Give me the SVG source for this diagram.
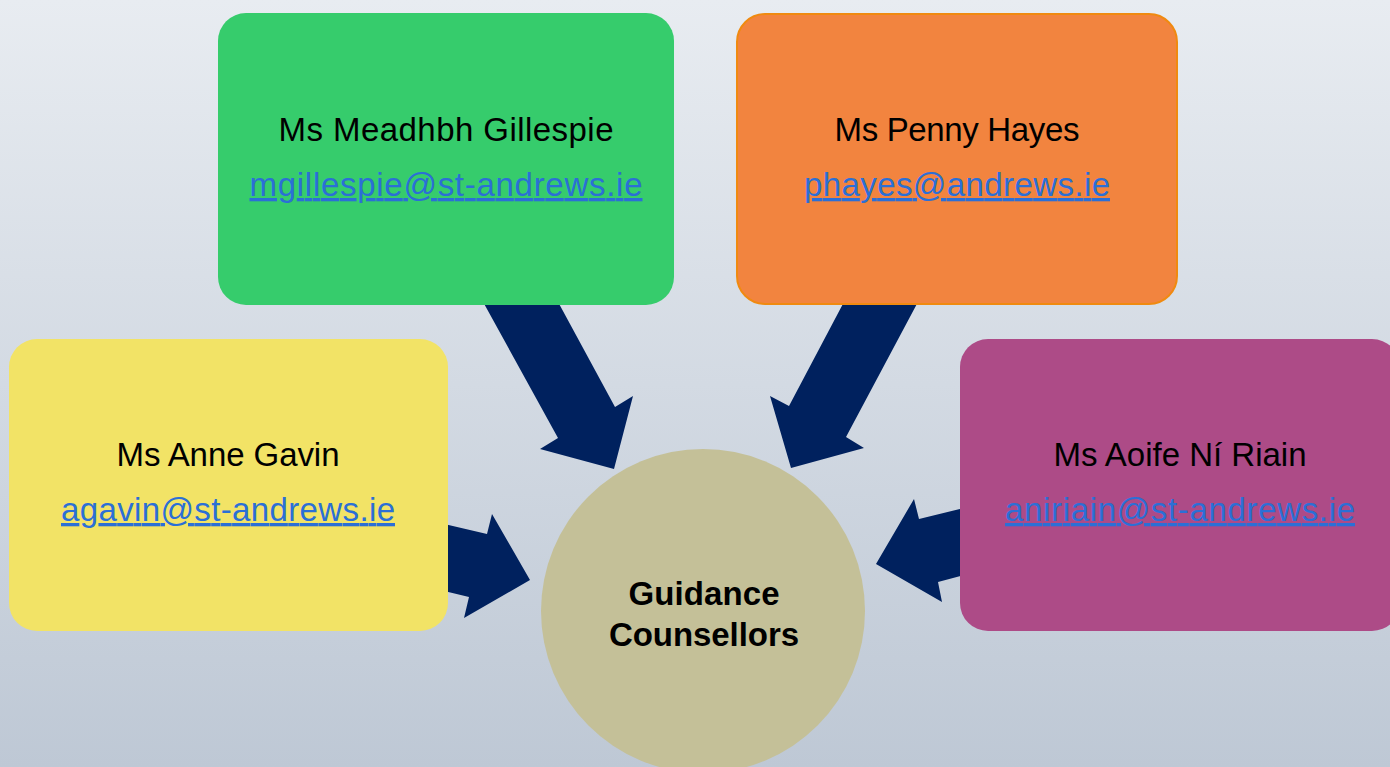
<svg xmlns="http://www.w3.org/2000/svg" width="1390" height="767" viewBox="0 0 1390 767">
<defs>
<linearGradient id="bg" x1="0" y1="0" x2="0" y2="1">
<stop offset="0" stop-color="#E8ECF1"/>
<stop offset="1" stop-color="#BEC8D5"/>
</linearGradient>
<style>
.name{font-family:"Liberation Sans",Arial,sans-serif;font-size:33px;fill:#000;text-anchor:middle}
.mail{font-family:"Liberation Sans",Arial,sans-serif;font-size:33px;fill:#2B6FD6;text-anchor:middle;text-decoration:underline}
.center{font-family:"Liberation Sans",Arial,sans-serif;font-size:33px;font-weight:bold;fill:#000;text-anchor:middle}
.arrow{fill:#00215E}
</style>
</defs>
<rect width="1390" height="767" fill="url(#bg)"/>
<g id="connectors">
<polygon class="arrow" points="482,300 557,300 615,407 633,396 614,469 540,449 558,438"/>
<polygon class="arrow" points="845,300 919,300 846,437 864,448 791,468 770,396 789,406"/>
<polygon class="arrow" points="440,523 487,534 492,514 530,580 464,618 469,597 440,590"/>
<polygon class="arrow" points="968,507 919,519 914,499 876,564 942,602 938,582 968,574"/>
</g>
<g id="node-gillespie">
<rect x="218" y="13" width="456" height="292" rx="28" fill="#36CC6C"/>
<text class="name" x="446" y="141" textLength="335">Ms Meadhbh Gillespie</text>
<text class="mail" x="446" y="196" textLength="393">mgillespie@st-andrews.ie</text>
</g>
<g id="node-hayes">
<rect x="737" y="14" width="440" height="290" rx="28" fill="#F2843F" stroke="#F08A10" stroke-width="2"/>
<text class="name" x="957" y="141" textLength="245">Ms Penny Hayes</text>
<text class="mail" x="957" y="196" textLength="306">phayes@andrews.ie</text>
</g>
<g id="node-gavin">
<rect x="9" y="339" width="439" height="292" rx="28" fill="#F2E366"/>
<text class="name" x="228" y="466" textLength="223">Ms Anne Gavin</text>
<text class="mail" x="228" y="521" textLength="334">agavin@st-andrews.ie</text>
</g>
<g id="node-niriain">
<rect x="960" y="339" width="440" height="292" rx="28" fill="#AD4B87"/>
<text class="name" x="1180" y="466" textLength="253">Ms Aoife Ní Riain</text>
<text class="mail" x="1180" y="521" textLength="350">aniriain@st-andrews.ie</text>
</g>
<g id="node-center">
<circle cx="703" cy="611" r="162" fill="#C4C098"/>
<text class="center" x="704" y="605" textLength="151">Guidance</text>
<text class="center" x="704" y="646" textLength="190">Counsellors</text>
</g>
</svg>
